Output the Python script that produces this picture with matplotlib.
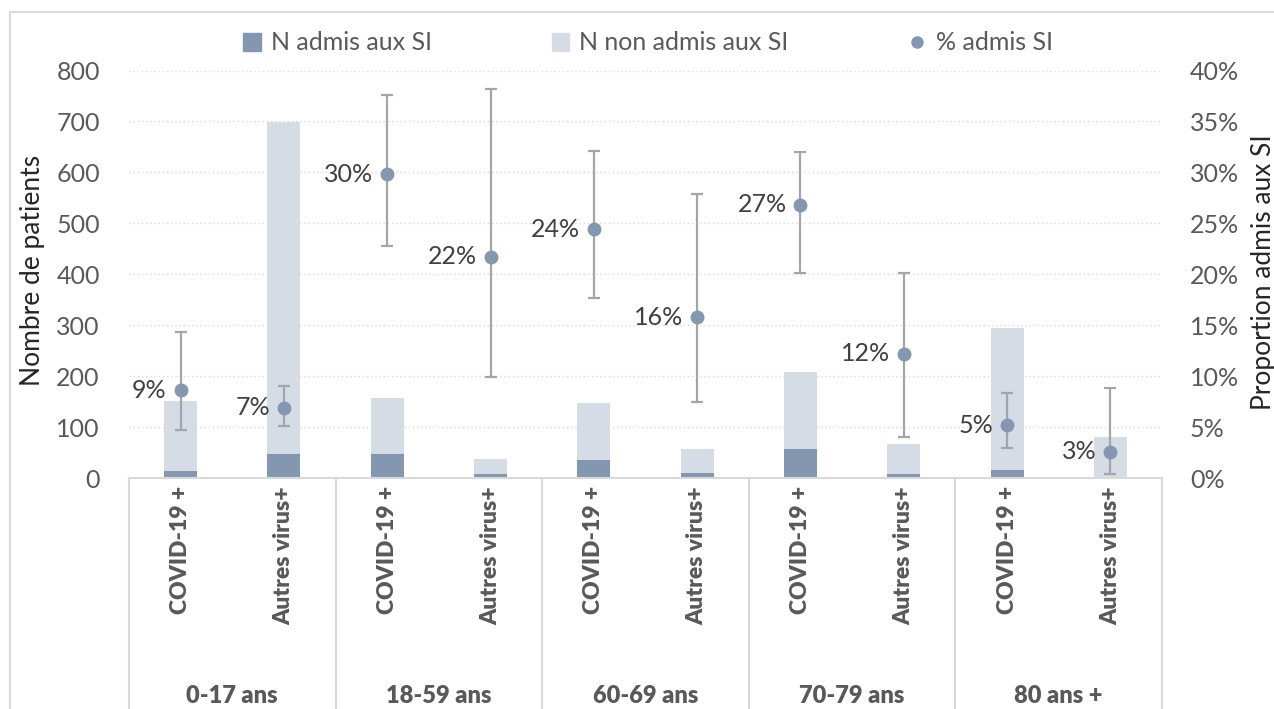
import numpy as np
import matplotlib
matplotlib.use('Agg')
import matplotlib.pyplot as plt
from matplotlib.patches import Patch
from matplotlib.lines import Line2D
from matplotlib.ticker import PercentFormatter

plt.rcParams['font.family'] = ['Lato', 'DejaVu Sans']

#patients by age group and virus type
groups = ['0-17 ans', '18-59 ans', '60-69 ans', '70-79 ans', '80 ans +']
types = ['COVID-19 +', 'Autres virus+']
n_total = [151, 698, 158, 37, 148, 57, 209, 66, 294, 80]
n_admis = [13, 48, 47, 8, 36, 9, 56, 8, 15, 2]
#% admitted to intensive care, with 95% CI
pct_admis = [8.6, 6.9, 29.8, 21.7, 24.4, 15.8, 26.8, 12.2, 5.2, 2.6]
ci_low = [4.7, 5.1, 22.8, 9.9, 17.7, 7.5, 20.1, 4.0, 2.9, 0.4]
ci_high = [14.3, 9.0, 37.6, 38.2, 32.1, 27.9, 32.0, 20.1, 8.3, 8.8]

dark = '#8497B0'
light = '#D6DCE5'
grey_txt = '#595959'
line_col = '#D9D9D9'

n_admis = np.array(n_admis)
n_non = np.array(n_total) - n_admis
pct = np.array(pct_admis)
lo = pct - np.array(ci_low)
hi = np.array(ci_high) - pct
x = np.arange(len(n_total))

fig = plt.figure(figsize=(12.74, 7.09), dpi=100)
ax = fig.add_axes([129/1274, 1 - 478/709, (1162 - 129)/1274, (478 - 70.5)/709])

ax.bar(x, n_admis, width=0.32, color=dark, zorder=2)
ax.bar(x, n_non, width=0.32, bottom=n_admis, color=light, zorder=2)
ax.set_xlim(-0.5, 9.5)
ax.set_ylim(0, 800)
ax.set_yticks(range(0, 801, 100))
ax.set_xticks([])
for v in range(100, 801, 100):
    ax.axhline(v, color=line_col, lw=1, ls=(0, (1, 2)), zorder=0)
for s in ['top', 'right', 'left']:
    ax.spines[s].set_visible(False)
ax.spines['bottom'].set_color(line_col)
ax.spines['bottom'].set_linewidth(1.5)
ax.tick_params(axis='y', length=0, pad=21, labelsize=18, labelcolor=grey_txt)

#right axis: proportion with error bars
ax2 = ax.twinx()
ax2.set_ylim(0, 40)
ax2.set_yticks(range(0, 41, 5))
ax2.yaxis.set_major_formatter(PercentFormatter(decimals=0))
for s in ax2.spines.values():
    s.set_visible(False)
ax2.tick_params(axis='y', length=0, pad=20, labelsize=18, labelcolor=grey_txt)
ax2.errorbar(x, pct, yerr=[lo, hi], fmt='o', color=dark, markersize=9,
             ecolor='#A5A5A5', elinewidth=1.6, capsize=4.5, capthick=1.6, zorder=3)
for xi, p in zip(x, pct):
    ax2.annotate('%d%%' % round(p), (xi, p), xytext=(-10, 0), textcoords='offset points',
                 ha='right', va='center', fontsize=18, color='#404040')

#category axis: virus type then age group
trans = ax.get_xaxis_transform()
for xi in x:
    ax.text(xi, -0.02, types[xi % 2], rotation=90, ha='center', va='top',
            fontsize=16.5, fontweight='heavy', color=grey_txt, transform=trans)
for i, g in enumerate(groups):
    ax.text(2*i + 0.5, -0.535, g, ha='center', va='center', fontsize=17,
            fontweight='heavy', color=grey_txt, transform=trans)
for b in np.arange(-0.5, 10, 2):
    ax.plot([b, b], [0, -0.6], color=line_col, lw=1.5, transform=trans, clip_on=False)

fig.text(33/1274, 1 - 270/709, 'Nombre de patients', rotation=90, ha='center', va='center',
         fontsize=19, color='#262626')
fig.text(1263/1274, 1 - 272/709, 'Proportion admis aux SI', rotation=90, ha='center', va='center',
         fontsize=19, color='#262626')

#chart frame
fig.add_artist(Line2D([10/1274, 10/1274], [0, 1 - 12/709], color=line_col, lw=1.5))
fig.add_artist(Line2D([10/1274, 1], [1 - 12/709, 1 - 12/709], color=line_col, lw=1.5))

handles = [Patch(color=dark), Patch(color=light),
           Line2D([], [], marker='o', ls='', color=dark, markersize=8)]
fig.legend(handles, ['N admis aux SI', 'N non admis aux SI', '% admis SI'], ncol=3,
           loc='center', bbox_to_anchor=(648/1274, 1 - 43/709), frameon=False,
           fontsize=18, labelcolor=grey_txt, handlelength=0.7, handleheight=0.7,
           handletextpad=0.4, columnspacing=4.8)

fig.savefig('out.png', dpi=100)
